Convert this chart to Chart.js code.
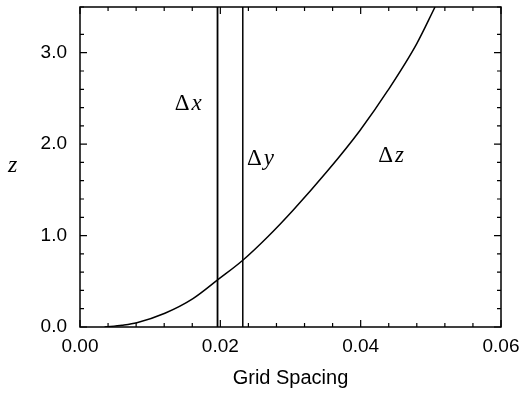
<!DOCTYPE html>
<html>
<head>
<meta charset="utf-8">
<script src="https://cdn.jsdelivr.net/npm/chart.js@4.4.0/dist/chart.umd.min.js"></script>
<style>
  html, body { margin: 0; padding: 0; background: #fff; }
  #wrap { width: 524px; height: 394px; }
</style>
</head>
<body>
<div id="wrap"><canvas id="spacingChart" width="524" height="394"></canvas></div>
<script>
// grid spacing needed in z (curve), and the fixed x / y spacings (vertical lines)
const gridSpacing = [0.0035, 0.0060, 0.0081, 0.0121, 0.0161, 0.0197, 0.0232, 0.0268, 0.0304, 0.0352, 0.0399, 0.0439, 0.0480, 0.0506];
const zLevel      = [0.00,   0.02,   0.047,  0.15,   0.31,   0.52,   0.73,   0.99,   1.28,   1.70,   2.15,   2.59,   3.10,   3.50];
const dxSpacing = 0.0196;
const dySpacing = 0.0232;
const zRange = [0, 3.5];

const xMajorTicks = [0, 0.02, 0.04, 0.06];
const yMajorTicks = [0, 1, 2, 3];
const xMinorStep = 0.004;
const yMinorStep = 0.2;

const isMajor = (v, list) => list.some(m => Math.abs(v - m) < 1e-9);

// box around the plot with inward tick marks on all four sides, plus the text labels
const framePlugin = {
  id: 'frame',
  afterDraw(chart) {
    const { ctx, chartArea: a, scales } = chart;
    const xs = scales.x, ys = scales.y;
    ctx.save();
    ctx.strokeStyle = '#000';
    ctx.lineWidth = 1.5;
    ctx.strokeRect(a.left, a.top, a.right - a.left, a.bottom - a.top);

    ctx.lineWidth = 1.2;
    ctx.beginPath();
    xs.ticks.forEach(t => {
      const px = xs.getPixelForValue(t.value);
      const len = isMajor(t.value, xMajorTicks) ? 7 : 4;
      ctx.moveTo(px, a.bottom); ctx.lineTo(px, a.bottom - len);
      ctx.moveTo(px, a.top); ctx.lineTo(px, a.top + len);
    });
    ys.ticks.forEach(t => {
      const py = ys.getPixelForValue(t.value);
      const len = isMajor(t.value, yMajorTicks) ? 7 : 4;
      ctx.moveTo(a.left, py); ctx.lineTo(a.left + len, py);
      ctx.moveTo(a.right, py); ctx.lineTo(a.right - len, py);
    });
    ctx.stroke();

    // series labels
    ctx.fillStyle = '#000';
    ctx.textBaseline = 'alphabetic';
    const labels = [
      { sym: 'x', x: 0.0135, y: 2.37 },
      { sym: 'y', x: 0.0238, y: 1.77 },
      { sym: 'z', x: 0.0425, y: 1.80 }
    ];
    labels.forEach(l => {
      const px = xs.getPixelForValue(l.x);
      const py = ys.getPixelForValue(l.y);
      ctx.font = '23px "Liberation Serif"';
      ctx.fillText('\u0394', px, py);
      const w = ctx.measureText('\u0394').width;
      ctx.font = 'italic 23px "Liberation Serif"';
      ctx.fillText(l.sym, px + w + 2, py);
    });

    // y axis name, upright
    ctx.font = 'italic 24px "Liberation Serif"';
    ctx.fillText('z', 8, 172);
    ctx.restore();
  }
};

new Chart(document.getElementById('spacingChart'), {
  type: 'scatter',
  data: {
    datasets: [
      {
        label: 'dz',
        data: gridSpacing.map((x, i) => ({ x, y: zLevel[i] })),
        showLine: true,
        cubicInterpolationMode: 'monotone',
        borderColor: '#000',
        borderWidth: 1.5,
        pointRadius: 0
      },
      {
        label: 'dx',
        data: zRange.map(y => ({ x: dxSpacing, y })),
        showLine: true,
        borderColor: '#000',
        borderWidth: 1.8,
        pointRadius: 0
      },
      {
        label: 'dy',
        data: zRange.map(y => ({ x: dySpacing, y })),
        showLine: true,
        borderColor: '#000',
        borderWidth: 1.5,
        pointRadius: 0
      }
    ]
  },
  options: {
    responsive: false,
    animation: false,
    devicePixelRatio: 1,
    layout: { padding: { top: 7, right: 23, left: 0, bottom: 0 } },
    plugins: {
      legend: { display: false },
      tooltip: { enabled: false }
    },
    scales: {
      x: {
        type: 'linear',
        min: 0,
        max: 0.06,
        grid: { display: false, drawTicks: false },
        border: { display: false },
        ticks: {
          stepSize: xMinorStep,
          autoSkip: false,
          maxRotation: 0,
          padding: 8,
          color: '#000',
          font: { family: '"Liberation Sans"', size: 19 },
          callback: v => isMajor(v, xMajorTicks) ? v.toFixed(2) : ''
        },
        title: {
          display: true,
          text: 'Grid Spacing',
          color: '#000',
          font: { family: '"Liberation Sans"', size: 20 },
          padding: { top: 2 }
        },
        afterFit: s => {
          s.height = 67;
          s.paddingLeft = 0;
          s.paddingRight = 0;
        }
      },
      y: {
        type: 'linear',
        min: zRange[0],
        max: zRange[1],
        grid: { display: false, drawTicks: false },
        border: { display: false },
        ticks: {
          stepSize: yMinorStep,
          autoSkip: false,
          padding: 13,
          color: '#000',
          font: { family: '"Liberation Sans"', size: 19 },
          callback: v => isMajor(v, yMajorTicks) ? v.toFixed(1) : ''
        },
        afterFit: s => {
          s.width = 80;
          s.paddingTop = 0;
          s.paddingBottom = 0;
        }
      }
    }
  },
  plugins: [framePlugin]
});
</script>
</body>
</html>
